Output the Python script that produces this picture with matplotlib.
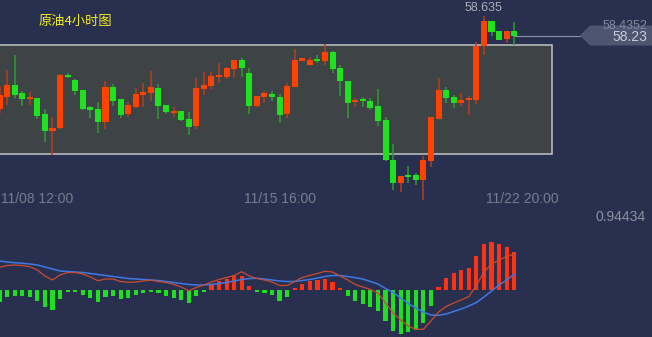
import numpy as np
import matplotlib
matplotlib.use("Agg")
import matplotlib.pyplot as plt
from matplotlib.patches import Rectangle, Polygon

plt.rcParams['font.family'] = ['Liberation Sans', 'Noto Sans CJK SC', 'DejaVu Sans']

# 4h candles, oil (red = up, green = down)
opens = [56.77, 57.01, 57.25, 57.09, 56.97, 56.99, 56.67, 56.33, 56.39, 57.45,
         57.35, 57.15, 56.81, 56.77, 56.51, 57.21, 56.97, 56.67, 56.81, 57.05,
         57.09, 57.19, 56.85, 56.69, 56.73, 56.57, 56.43, 57.17, 57.23, 57.41,
         57.41, 57.57, 57.75, 57.49, 56.83, 57.01, 57.07, 57.01, 56.67, 57.21,
         57.73, 57.65, 57.77, 57.73, 57.91, 57.59, 57.33, 56.91, 56.97, 56.93,
         56.83, 56.55, 55.75, 55.29, 55.45, 55.45, 55.35, 55.73, 56.57, 57.15,
         57.01, 56.89, 56.95, 56.95, 58.03, 58.53, 58.33, 58.17, 58.33]
highs = [57.23, 57.55, 57.85, 57.13, 57.11, 56.99, 56.77, 56.61, 57.47, 57.49,
         57.37, 57.15, 56.83, 56.91, 57.33, 57.27, 56.97, 56.91, 57.19, 57.29,
         57.53, 57.27, 56.85, 56.81, 56.73, 56.71, 57.39, 57.51, 57.51, 57.69,
         57.61, 57.75, 57.79, 57.59, 57.03, 57.13, 57.13, 57.07, 57.29, 57.97,
         57.79, 57.81, 57.85, 58.07, 57.93, 57.65, 57.33, 56.99, 57.01, 56.99,
         57.17, 56.61, 56.07, 55.43, 55.63, 55.49, 55.83, 56.61, 57.39, 57.21,
         57.05, 57.09, 57.03, 58.11, 58.635, 58.53, 58.33, 58.33, 58.51]
lows = [56.69, 56.85, 56.99, 56.83, 56.85, 56.57, 56.11, 55.85, 56.37, 57.39,
        57.05, 56.75, 56.59, 56.29, 56.37, 56.83, 56.59, 56.61, 56.79, 56.81,
        56.93, 56.57, 56.67, 56.61, 56.53, 56.25, 56.37, 57.05, 57.17, 57.29,
        57.37, 57.39, 57.41, 56.67, 56.81, 56.89, 56.93, 56.49, 56.59, 57.21,
        57.73, 57.65, 57.69, 57.65, 57.49, 57.03, 56.59, 56.81, 56.81, 56.75,
        56.43, 55.73, 55.15, 55.11, 55.29, 55.25, 54.95, 55.61, 56.57, 56.89,
        56.79, 56.83, 56.65, 56.87, 57.85, 58.23, 58.15, 58.09, 58.05]
closes = [57.05, 57.25, 57.05, 56.97, 57.01, 56.63, 56.33, 56.39, 57.45, 57.41,
          57.13, 56.77, 56.75, 56.51, 57.21, 56.93, 56.65, 56.85, 57.07, 57.11,
          57.21, 56.83, 56.71, 56.73, 56.55, 56.41, 57.19, 57.25, 57.43, 57.45,
          57.59, 57.75, 57.59, 56.83, 57.03, 57.09, 57.01, 56.65, 57.23, 57.75,
          57.79, 57.75, 57.73, 57.91, 57.57, 57.33, 56.89, 56.95, 56.93, 56.79,
          56.53, 55.75, 55.29, 55.43, 55.41, 55.35, 55.75, 56.61, 57.15, 56.99,
          56.89, 56.95, 56.99, 58.03, 58.53, 58.31, 58.15, 58.33, 58.23]

# MACD pane
dif = [0.227, 0.245, 0.25, 0.245, 0.233, 0.20, 0.14, 0.10, 0.15, 0.175,
       0.175, 0.16, 0.13, 0.093, 0.11, 0.11, 0.085, 0.077, 0.08, 0.09,
       0.10, 0.085, 0.075, 0.057, 0.03, -0.007, 0.025, 0.05, 0.08, 0.105,
       0.125, 0.145, 0.183, 0.14, 0.115, 0.10, 0.08, 0.045, 0.045, 0.085,
       0.125, 0.145, 0.165, 0.187, 0.18, 0.14, 0.10, 0.055, 0.03, 0.005,
       -0.03, -0.13, -0.23, -0.30, -0.36, -0.393, -0.393, -0.31, -0.22, -0.165,
       -0.13, -0.10, -0.065, 0.045, 0.18, 0.26, 0.30, 0.335, 0.36]
dea = [0.29, 0.28, 0.273, 0.267, 0.26, 0.25, 0.23, 0.21, 0.19, 0.185,
       0.18, 0.175, 0.165, 0.155, 0.145, 0.135, 0.125, 0.115, 0.11, 0.105,
       0.10, 0.095, 0.085, 0.075, 0.065, 0.055, 0.05, 0.05, 0.055, 0.065,
       0.075, 0.09, 0.105, 0.115, 0.117, 0.11, 0.10, 0.09, 0.085, 0.085,
       0.095, 0.105, 0.12, 0.135, 0.145, 0.145, 0.135, 0.123, 0.11, 0.085,
       0.06, 0.015, -0.025, -0.08, -0.135, -0.18, -0.22, -0.25, -0.253, -0.24,
       -0.215, -0.19, -0.16, -0.125, -0.07, -0.01, 0.05, 0.10, 0.157]
hist = [-0.117, -0.067, -0.06, -0.06, -0.073, -0.11, -0.167, -0.20, -0.09, -0.017,
        -0.017, -0.05, -0.077, -0.12, -0.067, -0.057, -0.09, -0.077, -0.05, -0.027,
        -0.023, -0.03, -0.06, -0.077, -0.10, -0.127, -0.057, -0.017, 0.05, 0.09,
        0.11, 0.143, 0.143, 0.04, -0.017, -0.025, -0.05, -0.108, -0.067, 0.02,
        0.06, 0.09, 0.10, 0.11, 0.08, 0.02, -0.057, -0.107, -0.137, -0.167,
        -0.207, -0.307, -0.407, -0.437, -0.42, -0.403, -0.327, -0.16, 0.03, 0.12,
        0.173, 0.20, 0.22, 0.34, 0.46, 0.48, 0.46, 0.43, 0.38]

date_pos = [5, 37, 69]
date_labels = ['11/08 12:00', '11/15 16:00', '11/22 20:00']
zone_low, zone_high, zone_end = 55.87, 58.05, 73.0
last_price = 58.23

bg = '#29304f'
up_body, up_wick = '#ff4200', '#b2401f'
dn_body, dn_wick = '#1ee21e', '#2c9c30'

fig = plt.figure(figsize=(6.52, 3.37), dpi=100, facecolor=bg)

ax = fig.add_axes([0, 127 / 337, 1, 210 / 337])
ax.axis('off')
ax.set_xlim(0.066, 86.2)
ax.set_ylim(54.75, 58.95)

x = np.arange(len(opens))
o = np.array(opens); c = np.array(closes)
up = c >= o

ax.add_patch(Rectangle((-2, zone_low), zone_end + 2, zone_high - zone_low,
                       facecolor='#3e4446', edgecolor='#c4c4c4', lw=1.1, zorder=0))

ax.vlines(x[up], np.array(lows)[up], np.array(highs)[up], color=up_wick, lw=1.1, zorder=2)
ax.vlines(x[~up], np.array(lows)[~up], np.array(highs)[~up], color=dn_wick, lw=1.1, zorder=2)
body = np.maximum(np.abs(c - o), 0.035)
ax.bar(x[up], body[up], bottom=np.minimum(o, c)[up], width=0.8, color=up_body, zorder=3)
ax.bar(x[~up], body[~up], bottom=np.minimum(o, c)[~up], width=0.8, color=dn_body, zorder=3)

ax.plot([x[-1], 76.7], [last_price, last_price], color='#8a91a8', lw=0.8, zorder=1)

mac = fig.add_axes([0, 0, 1, 137 / 337])
mac.axis('off')
mac.set_xlim(0.066, 86.2)
mac.set_ylim(-0.47, 0.90)
h = np.array(hist)
mac.bar(x, h, width=0.55, color=np.where(h >= 0, '#ff3311', '#1ee01e'), zorder=2)
mac.plot(x, dea, color='#3d78e6', lw=1.1, zorder=3)
mac.plot(x, dif, color='#cc4a30', lw=0.9, zorder=4)

# overlay in pixel coordinates for labels
ov = fig.add_axes([0, 0, 1, 1])
ov.axis('off')
ov.set_xlim(0, 652)
ov.set_ylim(337, 0)

ov.text(39, 21, '原油4小时图', color='#f2ee1c', fontsize=9.5, va='center', ha='left',
        family=['Noto Sans CJK SC', 'DejaVu Sans'])
for p, lab in zip(date_pos, date_labels):
    ov.text(-0.5 + 7.57 * p, 199, lab, color='#767d90', fontsize=10, ha='center', va='center')
ov.text(483, 8, '58.635', color='#a9adb8', fontsize=9, ha='center', va='center')
ov.text(646, 217, '0.94434', color='#8a90a0', fontsize=10, ha='right', va='center')

ov.add_patch(Polygon([(580, 35.5), (590, 25.5), (652, 25.5), (652, 45.5), (590, 45.5)],
                     closed=True, facecolor='#4d5570', edgecolor='none'))
ov.text(647, 26, '58.4352', color='#828a9e', fontsize=9, ha='right', va='center')
ov.text(647, 37, '58.23', color='#c8ccd8', fontsize=10, ha='right', va='center')

fig.savefig('out.png', dpi=100, facecolor=bg)
